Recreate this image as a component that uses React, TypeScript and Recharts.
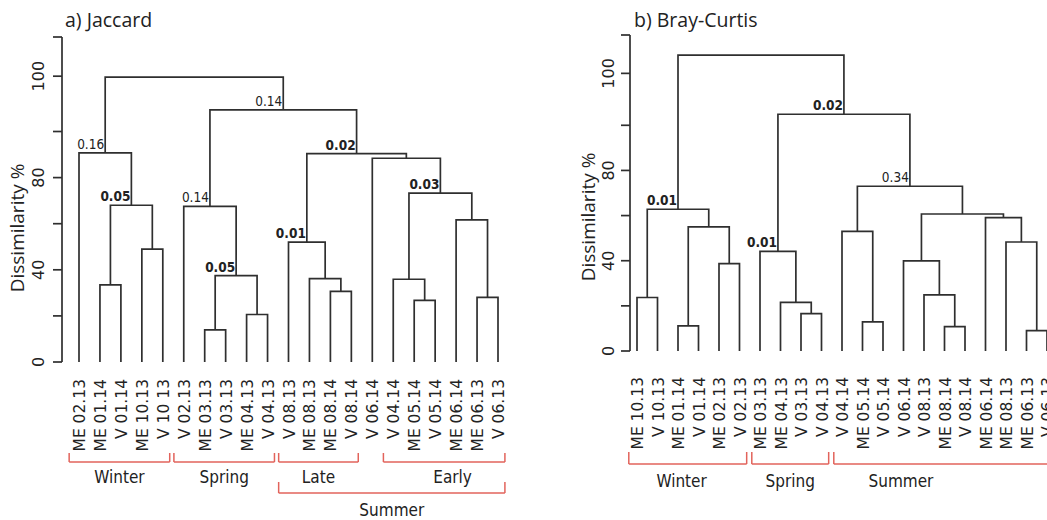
import React from 'react';
import { ComposedChart, Line, XAxis, YAxis, ReferenceLine, ReferenceDot } from 'recharts';

// ---------------- Data: panel a (Jaccard) ----------------
const LEAVES_A = ['ME 02.13', 'ME 01.14', 'V 01.14', 'ME 10.13', 'V 10 13', 'V 02.13', 'ME 03.13', 'V 03.13', 'ME 04.13', 'V 04.13', 'V 08.13', 'ME 08.13', 'ME 08.14', 'V 08.14', 'V 06.14', 'V 04.14', 'ME 05.14', 'V 05.14', 'ME 06.14', 'ME 06.13', 'V 06.13'];
// [left, right, height]; negative = leaf (1-based), positive = earlier merge (1-based)
const MERGES_A: [number, number, number][] = [
  [-7, -8, 13.9],
  [-9, -10, 20.6],
  [-17, -18, 26.7],
  [-20, -21, 28.0],
  [-13, -14, 30.6],
  [-2, -3, 33.5],
  [-16, 3, 35.9],
  [-12, 5, 36.2],
  [1, 2, 37.5],
  [-4, -5, 49.0],
  [-11, 8, 52.0],
  [-19, 4, 61.7],
  [-6, 9, 67.5],
  [6, 10, 68.0],
  [7, 12, 73.3],
  [-15, 15, 88.4],
  [11, 16, 90.4],
  [-1, 14, 90.7],
  [13, 17, 109.4],
  [18, 19, 123.6],
];
const NODE_LABELS_A = [
  { merge: 18, text: '0.16', bold: false },
  { merge: 14, text: '0.05', bold: true },
  { merge: 19, text: '0.14', bold: false },
  { merge: 17, text: '0.02', bold: true },
  { merge: 15, text: '0.03', bold: true },
  { merge: 13, text: '0.14', bold: false },
  { merge: 9, text: '0.05', bold: true },
  { merge: 11, text: '0.01', bold: true },
];
const GROUPS_A = [
  { name: 'Winter', from: 1, to: 5, level: 0 },
  { name: 'Spring', from: 6, to: 10, level: 0 },
  { name: 'Late', from: 11, to: 14, level: 0 },
  { name: 'Early', from: 16, to: 21, level: 0 },
  { name: 'Summer', from: 11, to: 21, level: 1 },
];
const Y_TICKS_A = [0, 20, 40, 60, 80, 100, 124, 141];
const Y_TICK_LABELS_A = ['0', '', '40', '', '80', '', '100', ''];

// ---------------- Data: panel b (Bray-Curtis) ----------------
const LEAVES_B = ['ME 10.13', 'V 10.13', 'ME 01.14', 'V 01.14', 'ME 02.13', 'V 02.13', 'ME 03.13', 'ME 04.13', 'V 03.13', 'V 04.13', 'V 04.14', 'ME 05.14', 'V 05.14', 'V 06.14', 'V 08.13', 'ME 08.14', 'V 08.14', 'ME 06.14', 'ME 08.13', 'ME 06.13', 'V 06.13'];
const MERGES_B: [number, number, number][] = [
  [-20, -21, 9.0],
  [-16, -17, 10.8],
  [-3, -4, 11.1],
  [-12, -13, 12.9],
  [-9, -10, 16.6],
  [-8, 5, 21.5],
  [-1, -2, 23.7],
  [-15, 2, 24.9],
  [-5, -6, 38.7],
  [-14, 8, 39.9],
  [-7, 6, 44.1],
  [-19, 1, 48.3],
  [-11, 4, 53.0],
  [3, 9, 55.0],
  [-18, 12, 59.1],
  [10, 15, 60.7],
  [7, 14, 62.8],
  [13, 16, 73.0],
  [11, 18, 104.9],
  [17, 19, 131.1],
];
const NODE_LABELS_B = [
  { merge: 17, text: '0.01', bold: true },
  { merge: 11, text: '0.01', bold: true },
  { merge: 18, text: '0.34', bold: false },
  { merge: 19, text: '0.02', bold: true },
];
const GROUPS_B = [
  { name: 'Winter', from: 1, to: 6, level: 0 },
  { name: 'Spring', from: 7, to: 10, level: 0 },
  { name: 'Summer', from: 11, to: 21, level: 0 },
];
const Y_TICKS_B = [0, 20, 40, 60, 80, 100, 123, 140];
const Y_TICK_LABELS_B = ['0', '', '40', '', '80', '', '100', ''];

// ---------------- Styles / layout ----------------
const LINE = '#2f2f2f';
const RED = '#e2635b';
const TEXT = '#222222';
const NARROW = "'DejaVu Sans Condensed', 'DejaVu Sans', sans-serif";
const WIDE = "'DejaVu Sans', Verdana, sans-serif";
const HUMAN = "'Open Sans', 'Noto Sans', sans-serif";

type Layout = {
  left: number; width: number; plotLeft: number; plotTop: number; plotBottom: number;
  leafFirst: number; leafStep: number; xMaxPad: number; yTickLabelX: number;
  yLabelX: number; yLabelY: number; titleX: number; titleY: number; leafLabelTop: number;
  bracketY: number[]; bracketTick: number[]; groupLabelY: number[]; padL: number; padR: number;
  labelShift: Record<string, number>;
};

const LAYOUT_A: Layout = {
  left: 0, width: 545, plotLeft: 62, plotTop: 37, plotBottom: 362,
  leafFirst: 79, leafStep: 20.95, xMaxPad: 0.6, yTickLabelX: 44,
  yLabelX: 24, yLabelY: 228, titleX: 65, titleY: 27, leafLabelTop: 379,
  bracketY: [462, 493], bracketTick: [9, 11], groupLabelY: [483, 516], padL: 0.47, padR: 0.33,
  labelShift: { Early: 0.4 },
};
const LAYOUT_B: Layout = {
  left: 560, width: 520, plotLeft: 70, plotTop: 35, plotBottom: 351,
  leafFirst: 77, leafStep: 20.5, xMaxPad: 0.6, yTickLabelX: 54,
  yLabelX: 35, yLabelY: 217, titleX: 74, titleY: 27, leafLabelTop: 377,
  bracketY: [464], bracketTick: [12], groupLabelY: [487], padL: 0.4, padR: 0.35,
  labelShift: { Winter: -0.3, Summer: -2.1 },
};

function nodeX(merges: [number, number, number][], ref: number, cache: Record<number, number>): number {
  if (ref < 0) return -ref;
  if (cache[ref] !== undefined) return cache[ref];
  const m = merges[ref - 1];
  const v = (nodeX(merges, m[0], cache) + nodeX(merges, m[1], cache)) / 2;
  cache[ref] = v;
  return v;
}
function nodeH(merges: [number, number, number][], ref: number) {
  return ref < 0 ? 0 : merges[ref - 1][2];
}

type PanelProps = {
  title: string; leaves: string[]; merges: [number, number, number][];
  nodeLabels: { merge: number; text: string; bold: boolean }[];
  groups: { name: string; from: number; to: number; level: number }[];
  yTicks: number[]; yTickLabels: string[]; L: Layout;
};

function Panel({ title, leaves, merges, nodeLabels, groups, yTicks, yTickLabels, L }: PanelProps) {
  const H = 520;
  const yMax = yTicks[yTicks.length - 1];
  const pxPerUnit = (L.plotBottom - L.plotTop) / yMax;
  const xMin = 1 - (L.leafFirst - L.plotLeft) / L.leafStep;
  const xMax = leaves.length + L.xMaxPad;
  const plotWidth = (xMax - xMin) * L.leafStep;
  const yAxisWidth = 40;
  const xAxisHeight = 20;
  const margin = {
    top: L.plotTop,
    left: L.plotLeft - yAxisWidth,
    right: L.width - L.plotLeft - plotWidth,
    bottom: H - L.plotBottom - xAxisHeight,
  };
  const below = (px: number) => -(px - L.plotBottom) / pxPerUnit;

  const cache: Record<number, number> = {};
  const links = merges.map((m, i) => {
    const xl = nodeX(merges, m[0], cache);
    const xr = nodeX(merges, m[1], cache);
    return {
      id: i + 1,
      data: [
        { x: xl, y: nodeH(merges, m[0]) },
        { x: xl, y: m[2] },
        { x: xr, y: m[2] },
        { x: xr, y: nodeH(merges, m[1]) },
      ],
    };
  });
  const leafTicks = leaves.map((_, i) => i + 1);

  const LeafTick = (p: any) => {
    const idx = Math.round(p.payload.value) - 1;
    const bx = p.x + 6;
    const by = L.leafLabelTop;
    return (
      <text x={bx} y={by} transform={`rotate(-90, ${bx}, ${by})`} textAnchor="end"
        fontFamily={WIDE} fontSize={15.5} fill={TEXT}>
        {leaves[idx]}
      </text>
    );
  };
  const YTick = (p: any) => {
    const i = yTicks.indexOf(p.payload.value);
    const lab = i >= 0 ? yTickLabels[i] : '';
    if (!lab) return <g />;
    const bx = L.yTickLabelX;
    return (
      <text x={bx} y={p.y} transform={`rotate(-90, ${bx}, ${p.y})`} textAnchor="middle"
        fontFamily={WIDE} fontSize={16} fill={TEXT}>
        {lab}
      </text>
    );
  };

  return (
    <div style={{ position: 'absolute', left: L.left, top: 0, width: L.width, height: H }}>
      <ComposedChart width={L.width} height={H} margin={margin}>
        <XAxis type="number" dataKey="x" domain={[xMin, xMax]} allowDataOverflow
          ticks={leafTicks} interval={0} axisLine={false} tickLine={false}
          height={xAxisHeight} tick={LeafTick} />
        <YAxis type="number" dataKey="y" domain={[0, yMax]} allowDataOverflow
          ticks={yTicks} interval={0} width={yAxisWidth} tickSize={9}
          axisLine={{ stroke: LINE, strokeWidth: 1.7 }} tickLine={{ stroke: LINE, strokeWidth: 1.7 }}
          tick={YTick} />
        {links.map((lk) => (
          <Line key={lk.id} data={lk.data} dataKey="y" type="linear" stroke={LINE}
            strokeWidth={1.7} dot={false} activeDot={false} isAnimationActive={false} />
        ))}
        {nodeLabels.map((nl, i) => (
          <ReferenceDot key={'nl' + i} x={nodeX(merges, nl.merge, cache)} y={merges[nl.merge - 1][2]}
            r={0} ifOverflow="visible"
            shape={(p: any) => (
              <text x={p.cx - 1} y={p.cy - 4} textAnchor="end" fontFamily={NARROW}
                style={{ fontStretch: 'condensed' }}
                fontSize={13.5} fontWeight={nl.bold ? 'bold' : 'normal'} fill={TEXT}>
                {nl.text}
              </text>
            )} />
        ))}
        {groups.map((g, i) => {
          const x1 = g.from - L.padL;
          const x2 = g.to + L.padR;
          const yb = below(L.bracketY[g.level]);
          const yt = below(L.bracketY[g.level] - L.bracketTick[g.level]);
          return (
            <React.Fragment key={'g' + i}>
              <ReferenceLine segment={[{ x: x1, y: yb }, { x: x2, y: yb }]} stroke={RED} strokeWidth={1.5} ifOverflow="visible" />
              <ReferenceLine segment={[{ x: x1, y: yb }, { x: x1, y: yt }]} stroke={RED} strokeWidth={1.5} ifOverflow="visible" />
              <ReferenceLine segment={[{ x: x2, y: yb }, { x: x2, y: yt }]} stroke={RED} strokeWidth={1.5} ifOverflow="visible" />
              <ReferenceDot x={(x1 + x2) / 2 + (L.labelShift[g.name] || 0)} y={below(L.groupLabelY[g.level])}
                r={0} ifOverflow="visible"
                shape={(p: any) => (
                  <text x={p.cx} y={p.cy} textAnchor="middle" fontFamily={NARROW}
                    style={{ fontStretch: 'condensed' }} fontSize={17} fill={TEXT}>
                    {g.name}
                  </text>
                )} />
            </React.Fragment>
          );
        })}
      </ComposedChart>
      <svg width={L.width} height={H} style={{ position: 'absolute', left: 0, top: 0, pointerEvents: 'none' }}>
        <text x={L.titleX} y={L.titleY} fontFamily={HUMAN} fontSize={19.5} fill={TEXT}>{title}</text>
        <text x={L.yLabelX} y={L.yLabelY} transform={`rotate(-90, ${L.yLabelX}, ${L.yLabelY})`}
          textAnchor="middle" fontFamily={HUMAN} fontSize={19} fill={TEXT}>Dissimilarity %</text>
      </svg>
    </div>
  );
}

export default function App() {
  return (
    <div style={{ position: 'absolute', left: 0, top: 0, width: 1047, height: 520, overflow: 'hidden', background: '#fff' }}>
      <Panel title="a) Jaccard" leaves={LEAVES_A} merges={MERGES_A} nodeLabels={NODE_LABELS_A}
        groups={GROUPS_A} yTicks={Y_TICKS_A} yTickLabels={Y_TICK_LABELS_A} L={LAYOUT_A} />
      <Panel title="b) Bray-Curtis" leaves={LEAVES_B} merges={MERGES_B} nodeLabels={NODE_LABELS_B}
        groups={GROUPS_B} yTicks={Y_TICKS_B} yTickLabels={Y_TICK_LABELS_B} L={LAYOUT_B} />
    </div>
  );
}
